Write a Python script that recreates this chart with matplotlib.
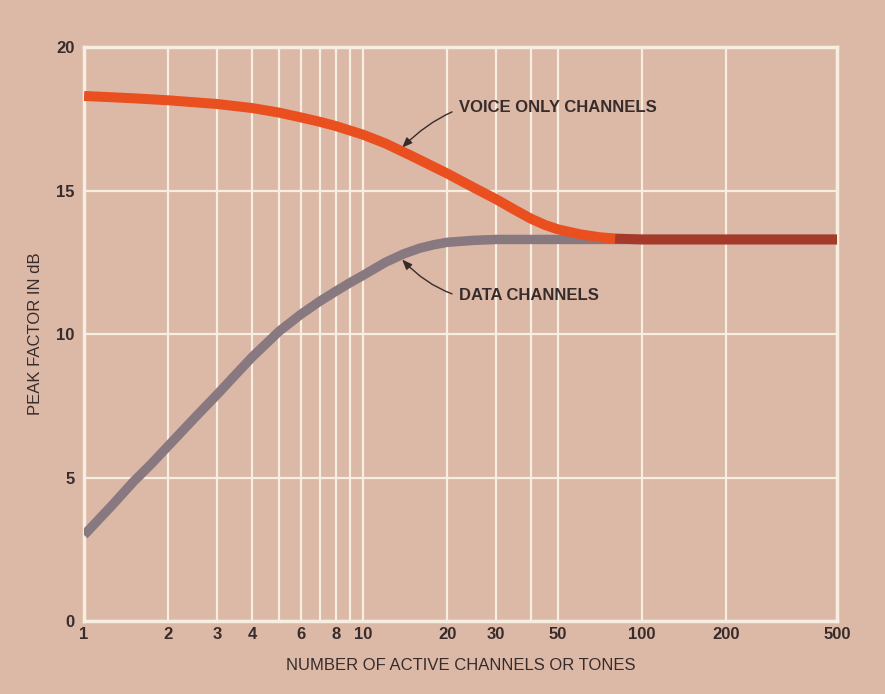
import numpy as np
import matplotlib
matplotlib.use("Agg")
import matplotlib.pyplot as plt

# values
voice_n = [1, 1.5, 2, 3, 4, 5, 6, 7, 8, 10, 12, 15, 20, 25, 30, 35, 40, 45, 50,
           60, 70, 80, 100, 150, 200, 300, 500]
voice_db = [18.3, 18.22, 18.15, 18.02, 17.88, 17.72, 17.55, 17.4, 17.25, 16.95, 16.65, 16.2,
            15.6, 15.1, 14.7, 14.33, 14.02, 13.8, 13.65, 13.48, 13.38, 13.33, 13.3, 13.3,
            13.3, 13.3, 13.3]

data_n = [1, 1.25, 1.5, 1.75, 2, 2.5, 3, 3.5, 4, 5, 6, 7, 8, 9, 10, 12, 14, 16, 18, 20,
          25, 30, 50, 100, 200, 500]
data_db = [3.0, 4.0, 4.85, 5.5, 6.1, 7.1, 7.9, 8.6, 9.2, 10.1, 10.7, 11.15, 11.5, 11.8,
           12.05, 12.5, 12.8, 13.0, 13.12, 13.2, 13.27, 13.3, 13.3, 13.3, 13.3, 13.3]

x_grid = [1, 2, 3, 4, 5, 6, 7, 8, 9, 10, 20, 30, 40, 50, 100, 200, 500]
x_ticks = [1, 2, 3, 4, 6, 8, 10, 20, 30, 50, 100, 200, 500]
y_ticks = [0, 5, 10, 15, 20]

BG = "#dcb8a7"
GRID = "#f7eee2"
TXT = "#382c2b"

plt.rcParams['font.family'] = ['Liberation Sans', 'DejaVu Sans']

fig = plt.figure(figsize=(8.85, 6.94), dpi=100, facecolor=BG)
ax = fig.add_axes([0.095, 0.105, 0.851, 0.827])
ax.set_facecolor(BG)
ax.set_xscale('log')
ax.set_xlim(1, 500)
ax.set_ylim(0, 20)

for xv in x_grid:
    ax.axvline(xv, color=GRID, lw=1.6, zorder=1)
for yv in y_ticks:
    ax.axhline(yv, color=GRID, lw=1.6, zorder=1)
for s in ax.spines.values():
    s.set_color(GRID)
    s.set_linewidth(2.5)

ax.set_xticks(x_ticks)
ax.set_xticklabels([str(v) for v in x_ticks])
ax.xaxis.set_minor_locator(matplotlib.ticker.NullLocator())
ax.set_yticks(y_ticks)
ax.tick_params(length=0, colors=TXT, labelsize=12)
ax.tick_params(axis='x', pad=4)
ax.tick_params(axis='y', pad=7)
for lab in ax.get_xticklabels() + ax.get_yticklabels():
    lab.set_fontweight('bold')

# curves
vn = np.array(voice_n)
vd = np.array(voice_db)
dn = np.array(data_n)
dd = np.array(data_db)
ax.plot(dn, dd, color="#887880", lw=6.8, solid_capstyle='butt',
        solid_joinstyle='round', zorder=3)
m = vn <= 80
ax.plot(vn[m], vd[m], color="#ea4f20", lw=7.2, solid_capstyle='butt',
        solid_joinstyle='round', zorder=4)
m2 = vn >= 80
ax.plot(vn[m2], vd[m2], color="#a63a2a", lw=7.2, solid_capstyle='butt',
        solid_joinstyle='round', zorder=4)

# annotations
ax.annotate("VOICE ONLY CHANNELS", xy=(13.8, 16.5), xytext=(22, 17.9),
            fontsize=12, fontweight='bold', color=TXT, va='center', ha='left',
            arrowprops=dict(arrowstyle='-|>,head_length=0.5,head_width=0.2', color=TXT, lw=1,
                            connectionstyle='arc3,rad=0.3', shrinkA=3, shrinkB=0))
ax.annotate("DATA CHANNELS", xy=(13.8, 12.6), xytext=(22, 11.35),
            fontsize=12, fontweight='bold', color=TXT, va='center', ha='left',
            arrowprops=dict(arrowstyle='-|>,head_length=0.5,head_width=0.2', color=TXT, lw=1,
                            connectionstyle='arc3,rad=-0.3', shrinkA=3, shrinkB=0))

ax.set_xlabel("NUMBER OF ACTIVE CHANNELS OR TONES", fontsize=12, color=TXT, labelpad=12)
ax.set_ylabel("PEAK FACTOR IN dB", fontsize=12, color=TXT, labelpad=9)

fig.savefig("out.png", dpi=100, facecolor=BG)
